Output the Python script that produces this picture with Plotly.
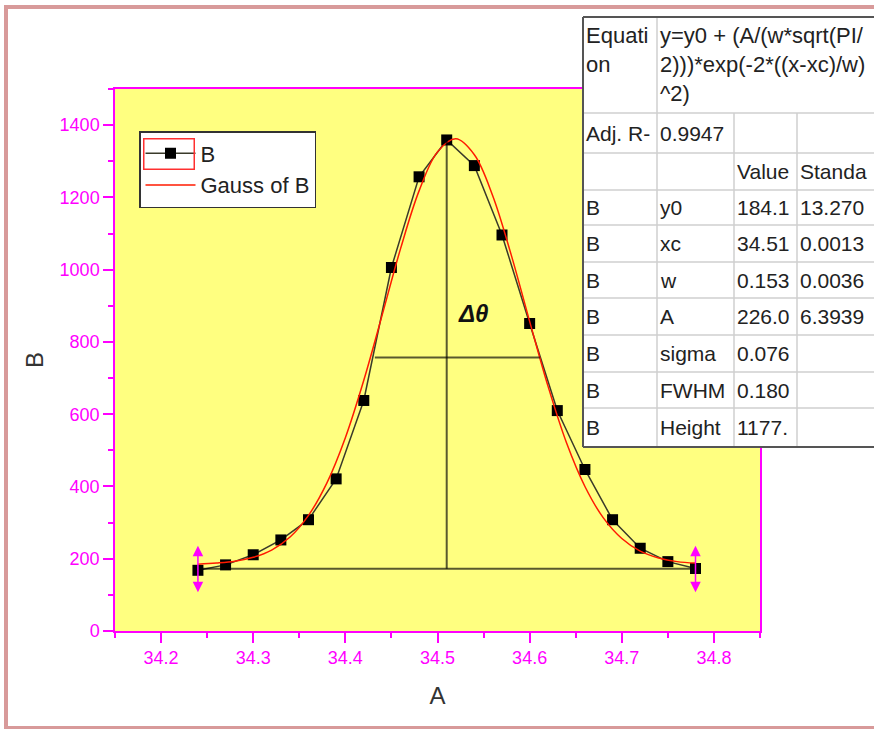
import plotly.graph_objects as go

# ---------------- data ----------------
data_x = [34.24, 34.27, 34.30, 34.33, 34.36, 34.39, 34.42, 34.45, 34.48, 34.51,
          34.54, 34.57, 34.60, 34.63, 34.66, 34.69, 34.72, 34.75, 34.78]
data_y = [168, 183, 211, 252, 308, 421, 638, 1006, 1257, 1359,
          1288, 1096, 851, 610, 447, 308, 229, 192, 173]

fit_x = [34.24, 34.26, 34.28, 34.30, 34.32, 34.34, 34.36, 34.38, 34.40, 34.42,
         34.44, 34.46, 34.48, 34.50, 34.52, 34.54, 34.56, 34.58, 34.60, 34.62,
         34.64, 34.66, 34.68, 34.70, 34.72, 34.74, 34.76, 34.78]
fit_y = [185, 188, 193, 204, 224, 260, 320, 410, 535, 694,
         875, 1059, 1218, 1326, 1362, 1318, 1204, 1041, 857, 677,
         521, 400, 313, 256, 221, 202, 192, 188]

# construction lines (baseline, peak line, half-maximum width)
base_x = [34.24, 34.78]
base_y = 172
peak_x = 34.51
peak_y = 1359
half_x = [34.432, 34.611]
half_y = 757
delta_label_pos = [34.539, 880]
arrow_x = [34.24, 34.78]
arrow_span = [103, 236]

x_ticks = [34.2, 34.3, 34.4, 34.5, 34.6, 34.7, 34.8]
y_ticks = [0, 200, 400, 600, 800, 1000, 1200, 1400]

table_rows = [
    ["Adj. R-", "0.9947", "", ""],
    ["", "", "Value", "Standa"],
    ["B", "y0", "184.1", "13.270"],
    ["B", "xc", "34.51", "0.0013"],
    ["B", "w", "0.153", "0.0036"],
    ["B", "A", "226.0", "6.3939"],
    ["B", "sigma", "0.076", ""],
    ["B", "FWHM", "0.180", ""],
    ["B", "Height", "1177.", ""],
]
eq_label = ["Equati", "on"]
eq_text = ["y=y0 + (A/(w*sqrt(PI/", "2)))*exp(-2*((x-xc)/w)", "^2)"]

# ---------------- layout geometry (pixels) ----------------
W, H = 874, 729
ML, MR, MT, MB = 115, 114, 89, 98
PW = W - ML - MR
PH = H - MT - MB


def px(x):
    return (x - ML) / PW


def py(y):
    return (H - MB - y) / PH


MAG = "#ff00ff"
FONT = "Liberation Sans, Arial, sans-serif"

fig = go.Figure()
fig.add_trace(go.Scatter(
    x=data_x, y=data_y, mode="lines+markers", name="B",
    line=dict(color="#3a3a2a", width=1.5),
    marker=dict(symbol="square", size=11, color="black"),
))
fig.add_trace(go.Scatter(
    x=fit_x, y=fit_y, mode="lines", name="Gauss of B",
    line=dict(color="#ff1a00", width=1.5, shape="spline", smoothing=1.0),
))

shapes = []
LC = "rgba(0,0,0,0.65)"
shapes.append(dict(type="line", xref="x", yref="y", x0=base_x[0], x1=base_x[1],
                   y0=base_y, y1=base_y, line=dict(color=LC, width=2)))
shapes.append(dict(type="line", xref="x", yref="y", x0=peak_x, x1=peak_x,
                   y0=base_y, y1=peak_y, line=dict(color=LC, width=2)))
shapes.append(dict(type="line", xref="x", yref="y", x0=half_x[0], x1=half_x[1],
                   y0=half_y, y1=half_y, line=dict(color=LC, width=2)))

annotations = []
for ax_ in arrow_x:
    annotations.append(dict(x=ax_, y=arrow_span[1], ax=ax_, ay=arrow_span[0],
                            xref="x", yref="y", axref="x", ayref="y",
                            showarrow=True, arrowhead=2, arrowside="end+start",
                            arrowsize=1.4, arrowwidth=1.5, arrowcolor=MAG, text=""))
annotations.append(dict(x=delta_label_pos[0], y=delta_label_pos[1], xref="x", yref="y",
                        text="<b><i>Δθ</i></b>", showarrow=False,
                        font=dict(family=FONT, size=24, color="#111")))

# ---------------- fit table (drawn as shapes + text) ----------------
cols = [583, 657, 734, 797, 880]
rows = [17, 113, 153, 190, 225, 262, 298, 335, 372, 408, 447]
shapes.append(dict(type="rect", xref="paper", yref="paper", layer="above",
                   x0=px(cols[0]), x1=px(cols[-1]), y0=py(rows[0]), y1=py(rows[-1]),
                   fillcolor="white", line=dict(width=0)))
GRID = "#cfcfcf"
for r in rows[1:-1]:
    shapes.append(dict(type="line", xref="paper", yref="paper", layer="above",
                       x0=px(cols[0]), x1=px(cols[-1]), y0=py(r), y1=py(r),
                       line=dict(color=GRID, width=1.5)))
shapes.append(dict(type="line", xref="paper", yref="paper", layer="above",
                   x0=px(cols[1]), x1=px(cols[1]), y0=py(rows[0]), y1=py(rows[-1]),
                   line=dict(color=GRID, width=1.5)))
for c in cols[2:4]:
    shapes.append(dict(type="line", xref="paper", yref="paper", layer="above",
                       x0=px(c), x1=px(c), y0=py(rows[1]), y1=py(rows[-1]),
                       line=dict(color=GRID, width=1.5)))
BORDER = "#555555"
shapes.append(dict(type="line", xref="paper", yref="paper", layer="above",
                   x0=px(cols[0]), x1=px(cols[-1]), y0=py(rows[0]), y1=py(rows[0]),
                   line=dict(color=BORDER, width=2)))
shapes.append(dict(type="line", xref="paper", yref="paper", layer="above",
                   x0=px(cols[0]), x1=px(cols[-1]), y0=py(rows[-1]), y1=py(rows[-1]),
                   line=dict(color=BORDER, width=2)))
shapes.append(dict(type="line", xref="paper", yref="paper", layer="above",
                   x0=px(cols[0]), x1=px(cols[0]), y0=py(rows[0]), y1=py(rows[-1]),
                   line=dict(color=BORDER, width=2)))

TF = dict(family=FONT, size=21, color="#222")
EF = dict(family=FONT, size=22, color="#222")
eq_centers = [35, 64, 93]
for i, t in enumerate(eq_label):
    annotations.append(dict(x=px(cols[0] + 1), y=py(eq_centers[i]), xref="paper", yref="paper",
                            text=t, showarrow=False, xanchor="left", yanchor="middle", font=EF))
for i, t in enumerate(eq_text):
    annotations.append(dict(x=px(cols[1] + 1), y=py(eq_centers[i]), xref="paper", yref="paper",
                            text=t, showarrow=False, xanchor="left", yanchor="middle", font=EF))
for ri, row in enumerate(table_rows):
    yc = (rows[ri + 1] + rows[ri + 2]) / 2
    for ci, t in enumerate(row):
        if t:
            annotations.append(dict(x=px(cols[ci] + 1), y=py(yc), xref="paper", yref="paper",
                                    text=t, showarrow=False, xanchor="left", yanchor="middle",
                                    font=TF))

# red selection box around legend symbol (annotation so it sits above the legend)
annotations.append(dict(x=px(143), y=py(138), xref="paper", yref="paper",
                        xanchor="left", yanchor="top", text=" ", showarrow=False,
                        width=49, height=29, bordercolor="#ff3030", borderwidth=1.5,
                        borderpad=0, bgcolor="rgba(0,0,0,0)", font=dict(size=10)))

# outer pink frame
shapes.append(dict(type="rect", xref="paper", yref="paper", layer="above",
                   x0=px(6), x1=px(885), y0=py(7), y1=py(728),
                   line=dict(color="#d89a9a", width=4)))

fig.update_layout(
    width=W, height=H,
    margin=dict(l=ML, r=MR, t=MT, b=MB, autoexpand=False),
    paper_bgcolor="white", plot_bgcolor="#ffff80",
    font=dict(family=FONT),
    showlegend=True,
    legend=dict(x=px(139), y=py(131), xanchor="left", yanchor="top",
                bgcolor="white", bordercolor="#333", borderwidth=1.5,
                font=dict(family=FONT, size=22, color="#222"),
                itemwidth=50, tracegroupgap=0),
    shapes=shapes, annotations=annotations,
)
fig.update_xaxes(
    range=[34.15, 34.85], tickvals=x_ticks, ticktext=[f"{v:.1f}" for v in x_ticks],
    ticks="outside", ticklen=10, tickwidth=1.5, tickcolor=MAG,
    minor=dict(dtick=0.05, tick0=34.15, ticks="outside", ticklen=5, tickwidth=1.5, tickcolor=MAG),
    showline=True, linecolor=MAG, linewidth=1.5, mirror=True,
    showgrid=False, zeroline=False,
    tickfont=dict(family=FONT, size=18, color=MAG),
    title=dict(text="A", font=dict(family=FONT, size=24, color="#333"), standoff=20),
)
fig.update_yaxes(
    range=[0, 1500], tickvals=y_ticks,
    ticks="outside", ticklen=10, tickwidth=1.5, tickcolor=MAG,
    minor=dict(dtick=100, tick0=0, ticks="outside", ticklen=5, tickwidth=1.5, tickcolor=MAG),
    showline=True, linecolor=MAG, linewidth=1.5, mirror=True,
    showgrid=False, zeroline=False,
    tickfont=dict(family=FONT, size=18, color=MAG),
    title=dict(text="B", font=dict(family=FONT, size=24, color="#333"), standoff=9),
)

fig.write_html("out.html")
